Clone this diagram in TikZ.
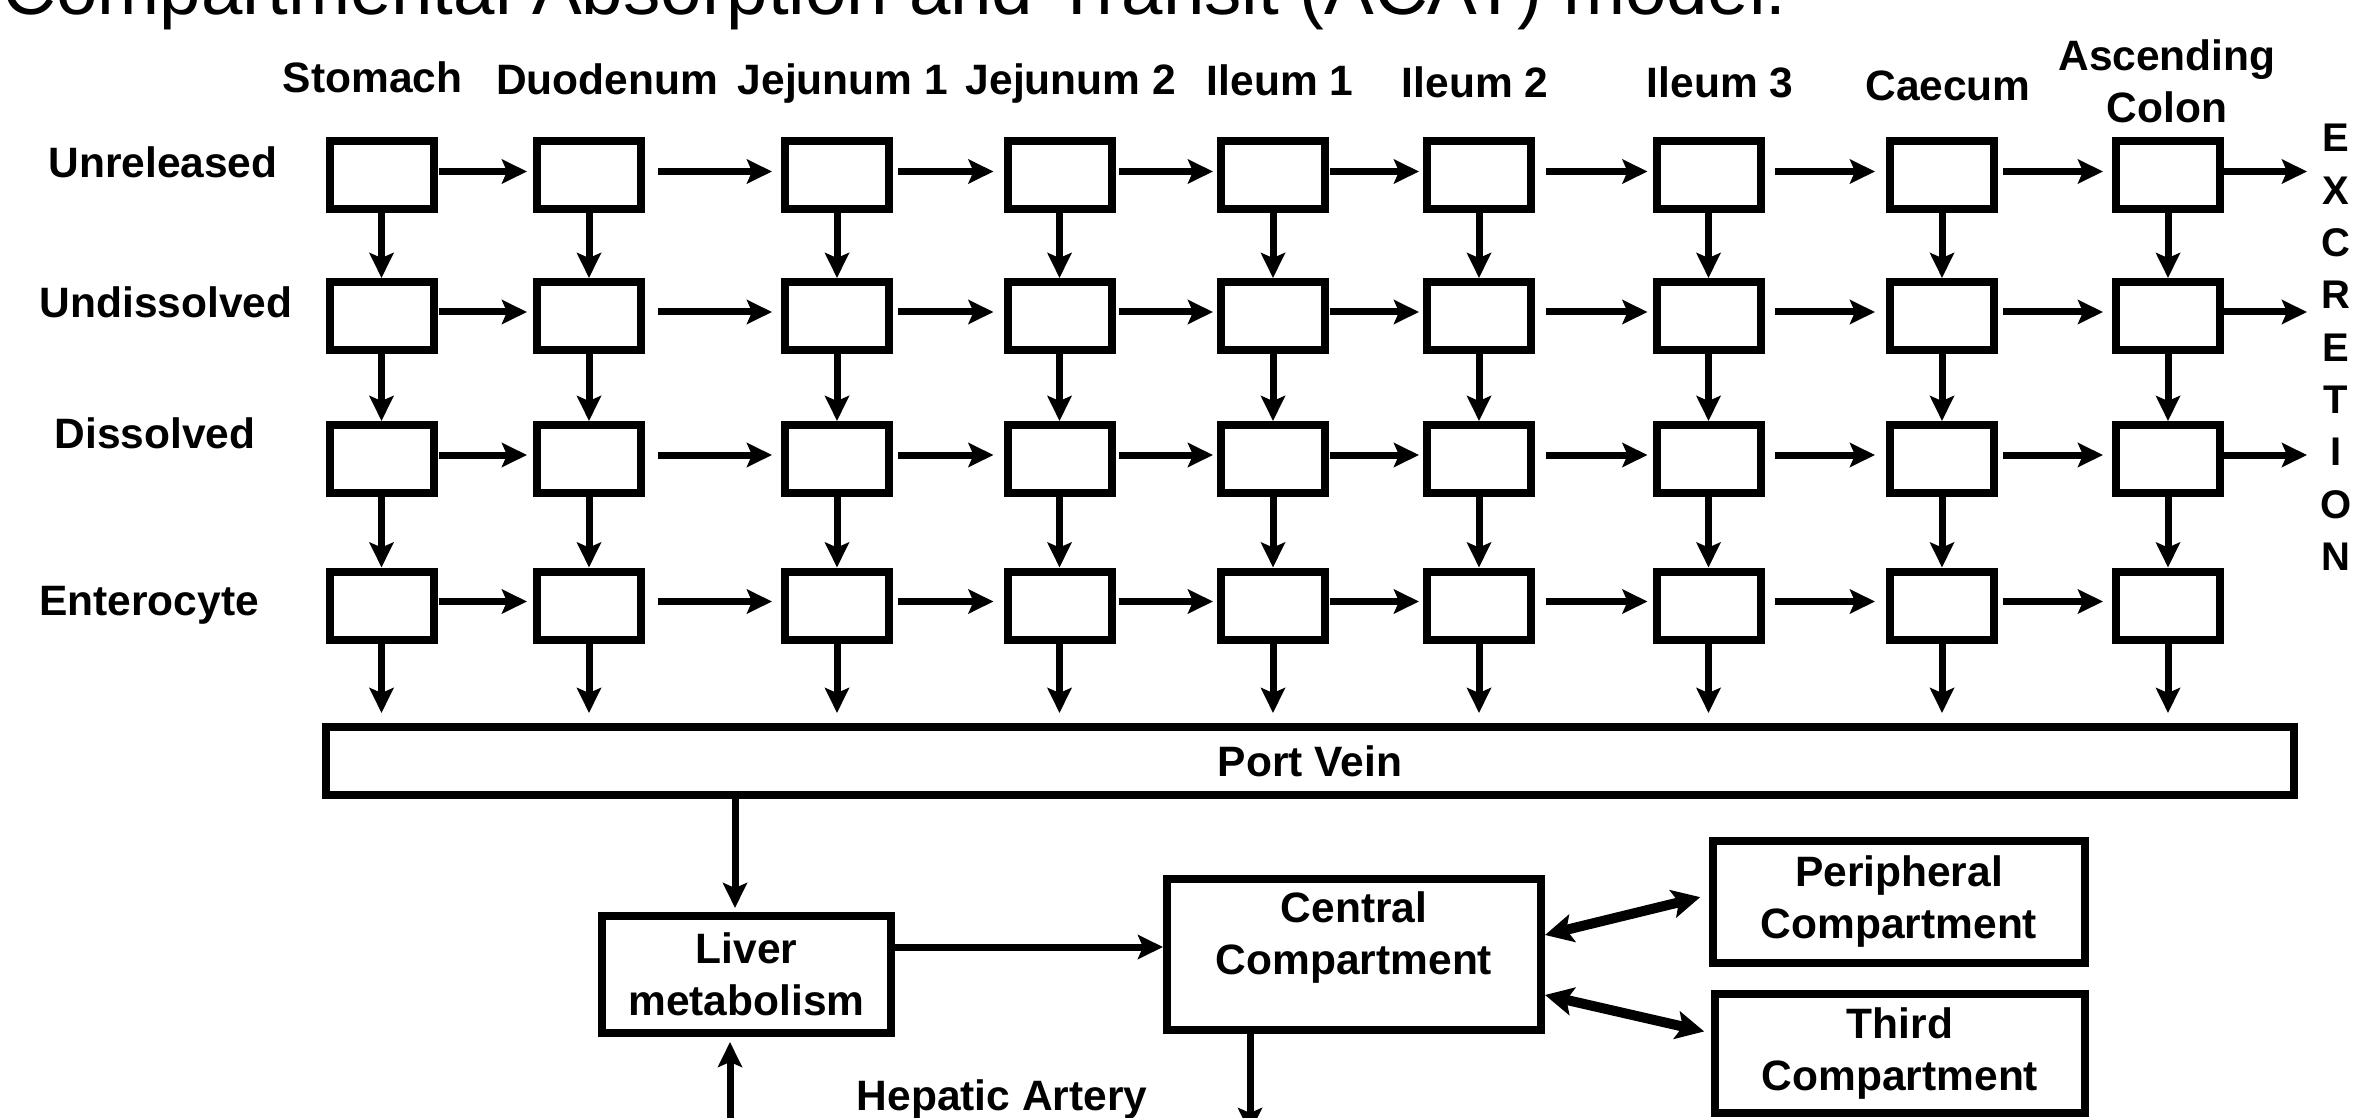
\documentclass[tikz,border=0pt]{standalone}
\usepackage{fontspec}
\setmainfont{Liberation Sans}
\usetikzlibrary{arrows.meta,calc}
\begin{document}
\begin{tikzpicture}[x=0.5pt,y=-0.5pt,
  box/.style={draw,line width=4pt,minimum width=52pt,minimum height=34pt,inner sep=0pt},
  bigbox/.style={draw,line width=4pt,inner sep=0pt,align=center,font=\bfseries\fontsize{21.25}{26}\selectfont},
  lbl/.style={font=\bfseries\fontsize{21.25}{26}\selectfont,inner sep=0pt},
  arr/.style={line width=3.5pt,-{Stealth[length=12.5pt,width=12pt,inset=2.5pt]}},
  darr/.style={line width=5pt,{Stealth[length=14pt,width=14pt,inset=3pt]}-{Stealth[length=14pt,width=14pt,inset=3pt]}}
]
\useasboundingbox (0,0) rectangle (2357,1118);

% title (cut at top)
\node[font=\fontsize{37.25}{40}\selectfont,anchor=base west,inner sep=0pt] (title) at (2,15) {Compartmental Absorption and Transit (ACAT) model.};

% column headers
\node[lbl,anchor=base] (h1) at (372.5,93) {Stomach};
\node[lbl,anchor=base] (h2) at (607,95) {Duodenum};
\node[lbl,anchor=base] (h3) at (843,95) {Jejunum 1};
\node[lbl,anchor=base] (h4) at (1071,95) {Jejunum 2};
\node[lbl,anchor=base] (h5) at (1280,96) {Ileum 1};
\node[lbl,anchor=base] (h6) at (1475,98) {Ileum 2};
\node[lbl,anchor=base] (h7) at (1720,98) {Ileum 3};
\node[lbl,anchor=base] (h8) at (1948,101) {Caecum};
\node[lbl,anchor=north,align=center] (h9) at (2167,39) {Ascending\\Colon};

% row labels
\node[lbl,anchor=base] (l1) at (163,178) {Unreleased};
\node[lbl,anchor=base] (l2) at (166,318) {Undissolved};
\node[lbl,anchor=base] (l3) at (155,448) {Dissolved};
\node[lbl,anchor=base] (l4) at (149,615) {Enterocyte};

% grid of compartments
\foreach \x [count=\c] in {381.5,589,837,1059.5,1273,1479,1708.5,1942,2168}
  \foreach \y [count=\r] in {175.5,316,459,605.5}
    \node[box] (b\r-\c) at (\x,\y) {};

% horizontal transit arrows
\foreach \c/\s/\e in {1/0.5pt/3pt,2/6.5pt/4.5pt,3/2.5pt/5pt,4/1.5pt/2pt,5/0.5pt/2pt,6/5.5pt/2.5pt,7/5pt/5.5pt,8/2.5pt/4.5pt}{
  \pgfmathtruncatemacro{\n}{\c+1}
  \foreach \r in {1,...,4}
    \draw[arr,shorten <=\s,shorten >=\e] ([yshift=2pt]b\r-\c.east) -- ([yshift=2pt]b\r-\n.west);
}

% excretion arrows
\foreach \r/\y in {1/171.5,2/312,3/455}{
  \coordinate (ex\r) at (2307,\y);
  \draw[arr] (b\r-9.east |- ex\r) -- (ex\r);
}
\node[font=\bfseries\fontsize{20}{26.15}\selectfont,align=center,anchor=north,inner sep=0pt] (excr) at (2336,124) {E\\X\\C\\R\\E\\T\\I\\O\\N};

% port vein
\node[bigbox,minimum width=984pt,minimum height=34pt] (port) at (1310,761) {Port Vein};

% vertical arrows
\foreach \c in {1,...,9}{
  \foreach \r in {1,2,3}{
    \pgfmathtruncatemacro{\n}{\r+1}
    \draw[arr] (b\r-\c.south) -- (b\n-\c.north);
  }
  \draw[arr,shorten >=5pt] (b4-\c.south) -- (b4-\c.south |- port.north);
}

% lower part
\node[bigbox,minimum width=144.5pt,minimum height=58.5pt] (liver) at (746.5,974.5) {Liver\\metabolism};
\node[draw,line width=4pt,inner sep=0pt,minimum width=187pt,minimum height=75.5pt] (central) at (1354,954.5) {};
\node[lbl,align=center,anchor=north] (centraltext) at (1354,891) {Central\\Compartment};
\node[bigbox,minimum width=186pt,minimum height=61pt] (periph) at (1899,902) {Peripheral\\Compartment};
\node[bigbox,minimum width=185pt,minimum height=59.5pt] (third) at (1900,1053.5) {Third\\Compartment};

\draw[arr,shorten >=2pt] ([xshift=-5.75pt]liver.north |- port.south) -- ([xshift=-5.75pt]liver.north);
\draw[arr] ([yshift=13.75pt]liver.east) -- ([yshift=13.75pt]liver.east -| central.west);
\draw[darr,shorten >=4.5pt] ([yshift=9.75pt]central.east) -- ([yshift=3.5pt]periph.west);
\draw[darr,shorten >=3.5pt] ([yshift=-20.25pt]central.east) -- ([yshift=10.25pt]third.west);

\coordinate (hepin) at (730,1150);
\coordinate (hepout) at (1250,1133);
\draw[arr,shorten >=2.5pt] (hepin) -- (hepin |- liver.south);
\draw[arr] (central.south -| hepout) -- (hepout);
\node[lbl,anchor=base] (hep) at (1002,1110) {Hepatic Artery};
\end{tikzpicture}
\end{document}
